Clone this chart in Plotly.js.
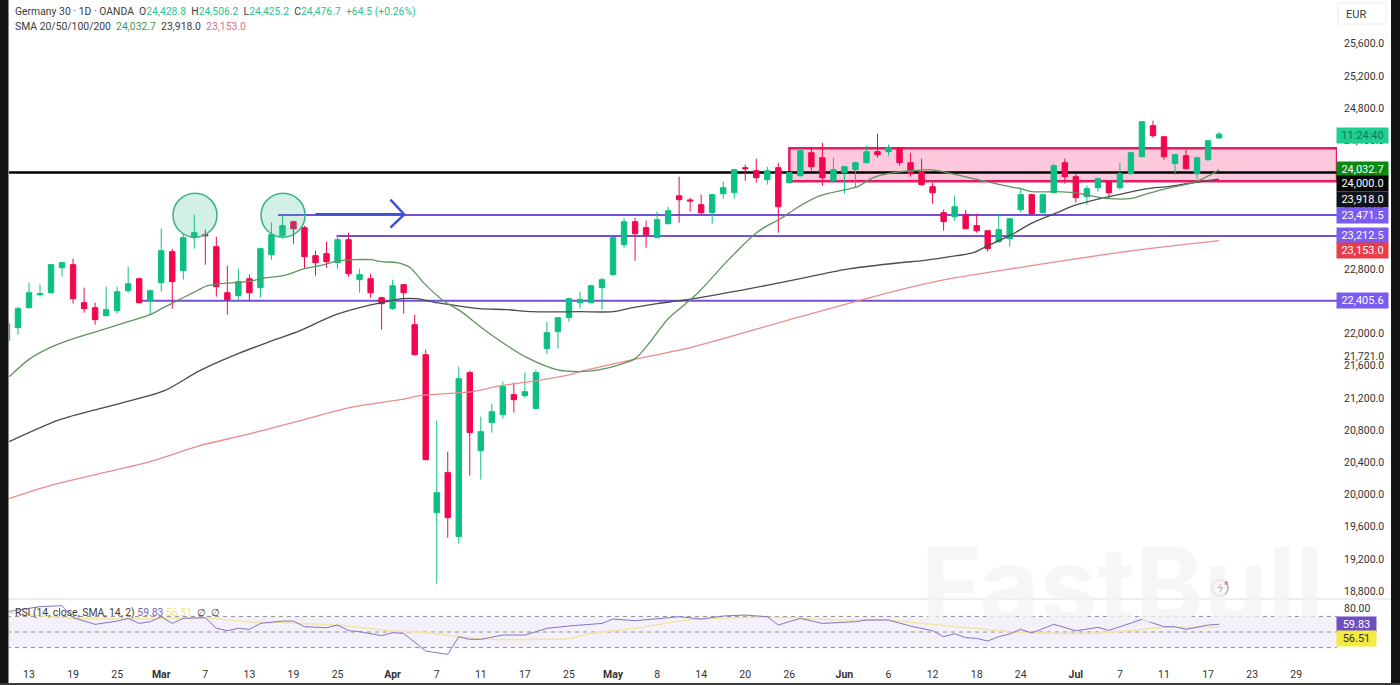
<!DOCTYPE html>
<html>
<head>
<meta charset="utf-8">
<title>Germany 30</title>
<script src="https://cdn.plot.ly/plotly-3.0.1.min.js"></script>
<style>
    html, body { margin: 0; padding: 0; background: #fff; overflow: hidden; }
</style>
</head>
<body>
<div id="chart" style="width:1400px;height:685px"></div>
<script>
// OHLC, first bar sits just before 13 Feb
const opens = [21911,22073,22321,22483,22507,22818,22855,22383,22321,22222,22284,22532,22681,22408,22632,23017,22781,23191,23228,23079,22507,22470,22681,22570,22979,23215,23389,23315,22967,22992,22880,23166,22669,22681,22445,22309,22607,22110,21737,19775,20272,19477,21514,20545,20893,20992,21241,21228,21067,21812,22023,22197,22383,22383,22570,22731,23104,23389,23315,23191,23364,23712,23660,23600,23501,23737,23749,24060,24023,23911,24060,23874,23960,24246,24184,23898,23998,24035,24122,24259,24259,24308,24122,24010,23824,23501,23451,23476,23340,23277,23141,23178,23538,23725,23501,23749,24122,23948,23700,23811,23886,23811,23985,24196,24581,24445,24110,24209,23985,24159,24428.8];
const highs = [22259,22333,22632,22607,22865,22890,22930,22570,22383,22582,22582,22830,22690,22545,23302,23054,23240,23476,23290,23203,22843,22805,22731,23064,23377,23464,23402,23340,23029,23141,23228,23253,22805,22743,22458,22669,22615,22234,21799,20918,20533,21588,21539,20967,21129,21402,21390,21514,21551,22147,22205,22445,22520,22607,22694,23200,23439,23439,23402,23513,23575,23948,23687,23725,23735,23886,24045,24097,24172,24072,24122,24005,24280,24321,24370,24184,24080,24130,24333,24482,24346,24318,24246,24172,23874,23538,23712,23538,23488,23285,23488,23439,23811,23735,23735,24110,24172,23985,23836,23936,23895,24122,24259,24640,24644,24455,24230,24283,24196,24408,24506.2];
const lows = [21849,21986,22309,22458,22495,22706,22371,22259,22110,22210,22247,22507,22375,22234,22520,22309,22669,23054,22855,22458,22234,22420,22408,22445,22917,23178,23116,22805,22719,22818,22805,22706,22507,22445,22048,22296,22247,21725,20425,18893,19464,19390,20234,20185,20769,20942,21017,21203,21060,21750,21812,22147,22309,22375,22296,22720,23066,22905,23066,23180,23355,23377,23513,23464,23364,23675,23675,23898,23874,23849,23253,23865,23950,24023,23836,23890,23737,23811,24115,24184,24209,24085,23948,23836,23613,23277,23402,23295,23253,23017,23128,23079,23501,23464,23490,23740,23861,23625,23600,23762,23687,23787,23975,24190,24432,24159,23973,24040,23923,24150,24425.2];
const closes = [22122,22309,22507,22495,22855,22880,22433,22309,22172,22296,22520,22619,22383,22532,23029,22644,23191,23253,23215,22582,22420,22644,22507,23054,23228,23340,23302,22954,22880,22892,23166,22743,22731,22507,22371,22594,22507,21737,20433,20023,19713,21439,20769,20781,21029,21340,21178,21278,21514,22011,22197,22433,22420,22594,22669,23191,23389,23240,23228,23414,23526,23662,23645,23501,23725,23811,24035,24047,23936,24023,23575,23998,24271,24072,23936,24035,24072,24122,24259,24221,24308,24122,23985,23849,23749,23389,23575,23302,23277,23054,23290,23426,23725,23489,23725,24085,23948,23687,23799,23923,23749,23985,24246,24631,24457,24196,24221,24047,24184,24395,24476.7];

// moving averages, vertices taken where the curve bends (x is bar number, 0 = 13 Feb)
const sma20Bars = [-1.8,0.1,1.9,3.5,6.4,9,11,12.2,13.1,14.9,16.2,17.3,19.8,21.6,23.1,25,26.4,28.2,31,32,33.4,34.6,35.8,37.6,39.1,41.2,43.4,45.2,47.9,50,51.8,53.9,55,56.1,58,59.7,60.9,63.4,65.9,67,68.2,69.7,71.8,74.1,75.2,76.6,78.4,80.2,81.8,83.3,85.7,88.1,90,91,93.3,94.8,96.3,98.1,99.9,101.5,103.6,105.7,106.9,108];
const sma20 = [21464,21688,21824,21911,22035,22147,22234,22321,22383,22507,22594,22619,22644,22694,22719,22805,22843,22905,22917,22892,22880,22818,22632,22408,22284,22060,21849,21700,21551,21526,21551,21626,21688,21849,22184,22383,22532,22905,23240,23340,23426,23563,23712,23787,23824,23936,23998,24023,24035,23998,23923,23849,23799,23762,23762,23749,23712,23675,23675,23737,23811,23874,23948,24032.7];
const sma50Bars = [-1.8,2.8,6.4,9.2,12.3,15.5,19.2,22.1,24.6,27.6,30,32,33.9,35.2,37,38.8,40.9,43.4,45.7,50,53,54.8,57,59.7,65.4,70,74.5,79.1,81.1,84.2,85.7,87,89,91.1,93.3,94.8,97.2,99.3,101.5,103.3,105.1,106.9,108];
const sma50 = [20657,20930,21067,21166,21290,21539,21762,21911,22035,22222,22321,22383,22433,22433,22383,22346,22309,22296,22271,22271,22271,22321,22371,22420,22557,22681,22805,22880,22905,22967,23004,23091,23215,23377,23501,23588,23675,23737,23799,23824,23861,23898,23918];
const sma100Bars = [-1.8,1.9,6.4,11,15.5,20.1,24.6,29.1,33.7,35.5,37.9,40.3,42.8,46.1,49.1,50,54.8,60,70,79.1,83.6,88.1,93.9,100.2,108];
const sma100 = [19949,20110,20259,20408,20607,20756,20918,21079,21178,21228,21253,21278,21352,21414,21489,21526,21675,21824,22209,22545,22681,22781,22905,23029,23153];

// RSI pane
const rsiBars = [-2,1,3,4,6,8,9,10,11,12,13,14,16,17,18,19,20,21,23,24,25,27,28,29,30,32,33,34,36,38,39,40,41,43,45,47,49,52,53,55,58,59,61,63,65,67,68,70,72,75,76,78,80,82,83,84,85,86,87,88,89,90,91,93,95,97,98,101,103,104,105,107,108];
const rsi = [76,82.5,83.7,68.3,59.8,64,67.5,61,63.2,69.6,61,67.5,68.3,54.7,51.7,54.7,53.4,61,64,64,56.8,55.5,58.9,51.7,50.4,45.3,49.1,48.2,25.6,21.3,44,40.6,40.6,46.1,46.1,54.7,57.7,61,66.6,64.5,68.3,69.6,66.6,70.5,71.7,69.6,58.9,67.5,61,63.2,65.3,65.3,57.6,51.6,44,47.8,42.7,41.8,38.4,44,47.4,53.4,48.7,59.8,51.6,55.9,52,66.2,56.8,56.8,53.4,58.9,59.83];
const rsiMaBars = [-2,4,8,14,16,20,23,28,30,33,36,39,42,46,49,51,55,59,61,65,69,73,78,81,85,89,92,96,100,103,106,108];
const rsiMa = [75,67.5,66.6,67.5,68.3,63.2,62,58.9,55.9,51.2,49.5,44,40.6,40.6,41.8,48.2,54.7,64,66.6,68.7,68.3,65.3,65.3,61,55.9,50.4,48.7,48.2,52,55.9,55.9,56.51];

// axes
const dateTickBars = [0,4,8,12,16,20,24,28,33,37,41,45,49,53,57,61,65,69,74,78,82,86,90,95,99,103,107,111,115];
const dateTickLabels = ['13','19','25','<b>Mar</b>','7','13','19','25','<b>Apr</b>','7','11','17','25','<b>May</b>','8','14','20','26','<b>Jun</b>','6','12','18','24','<b>Jul</b>','7','11','17','23','29'];
const priceTicks = [25600,25200,24800,24400,24000,23600,23200,22800,22400,22000,21721,21600,21200,20800,20400,20000,19600,19200,18800];
const priceTickLabels = priceTicks.map(v => v.toLocaleString('en-US', { minimumFractionDigits: 1 }));

// drawn levels and their axis tags
const roofZone = [24302, 23892];
const blackLevel = 24000;
const purpleLevels = [23471.5, 23212.5, 22405.6];
const purpleStarts = [22.6, 27.9, 9.9];
const arrowBars = [26, 34.05, null, 32.8, 34.05, 32.8];
const arrowPrices = [23480, 23480, null, 23662, 23480, 23315];
const circleBars = [[13.07, 17.06], [21.06, 25.05]];
const circlePrices = [23743, 23196];

const GREEN = '#0dbf85';
const RED = '#f2074f';
const PURPLE = '#7350d8';
const lastBar = 118.7;

const barNumbers = opens.map((_, i) => i - 2);

const traces = [
    {
        type: 'candlestick', x: barNumbers, open: opens, high: highs, low: lows, close: closes,
        xaxis: 'x', yaxis: 'y', whiskerwidth: 0, hoverinfo: 'skip',
        increasing: { line: { color: GREEN, width: 1 }, fillcolor: GREEN },
        decreasing: { line: { color: RED, width: 1 }, fillcolor: RED },
    },
    smaTrace(sma100Bars, sma100, '#ea8d8d'),
    smaTrace(sma50Bars, sma50, '#4b4b4b'),
    smaTrace(sma20Bars, sma20, '#5f9460'),
    {
        type: 'scatter', mode: 'lines', x: arrowBars, y: arrowPrices, hoverinfo: 'skip',
        line: { color: '#3f51d9', width: 2.5 },
    },
    {
        type: 'scatter', mode: 'lines', x: rsiMaBars, y: rsiMa, xaxis: 'x', yaxis: 'y2', hoverinfo: 'skip',
        line: { color: '#f1e6a6', width: 1.5, shape: 'spline', smoothing: 0.6 },
    },
    {
        type: 'scatter', mode: 'lines', x: rsiBars, y: rsi, xaxis: 'x', yaxis: 'y2', hoverinfo: 'skip',
        line: { color: '#8474c4', width: 1 },
    },
];

function smaTrace(x, y, color) {
    return {
        type: 'scatter', mode: 'lines', x, y, hoverinfo: 'skip',
        line: { color, width: 1.3, shape: 'spline', smoothing: 0.8 },
    };
}

function level(y, x0, color, width, dash) {
    return {
        type: 'line', xref: 'x', yref: 'y', x0, x1: lastBar, y0: y, y1: y, layer: 'below',
        line: { color, width, dash: dash || 'solid' },
    };
}

function rsiLevel(y) {
    return {
        type: 'line', xref: 'x', yref: 'y2', x0: -2, x1: lastBar, y0: y, y1: y, layer: 'below',
        line: { color: '#8a8a8a', width: 1, dash: '4px,4px' },
    };
}

function paperBox(x0, y0, x1, y1, fill) {
    return {
        type: 'rect', xref: 'paper', yref: 'paper', x0: x0 / 1400, x1: x1 / 1400,
        y0: 1 - y1 / 685, y1: 1 - y0 / 685, fillcolor: fill, line: { width: 0 }, layer: 'above',
    };
}

const shapes = [
    {
        type: 'rect', xref: 'x', yref: 'y', x0: 69, x1: lastBar, y0: roofZone[1], y1: roofZone[0], layer: 'below',
        fillcolor: '#fec9dc', line: { color: '#e61b63', width: 2.5 },
    },
    level(blackLevel, -2, '#000000', 2.5),
    ...purpleLevels.map((v, i) => level(v, purpleStarts[i], PURPLE, 2)),
    ...circleBars.map(c => ({
        type: 'circle', xref: 'x', yref: 'y', x0: c[0], x1: c[1], y0: circlePrices[1], y1: circlePrices[0],
        fillcolor: 'rgba(50,185,140,0.22)', line: { color: '#35b48b', width: 1.5 }, layer: 'above',
    })),
    // RSI band
    {
        type: 'rect', xref: 'x', yref: 'y2', x0: -2, x1: lastBar, y0: 30, y1: 70, layer: 'below',
        fillcolor: 'rgba(126,87,194,0.09)', line: { width: 0 },
    },
    rsiLevel(70), rsiLevel(50), rsiLevel(30),
    // pane divider
    { type: 'line', xref: 'paper', yref: 'paper', x0: 9 / 1400, x1: 1391 / 1400, y0: 1 - 599 / 685, y1: 1 - 599 / 685, line: { color: '#dcdcdc', width: 1 } },
    // screen frame of the screenshot
    paperBox(0, 0, 8.5, 685, '#141414'),
    paperBox(1391, 0, 1400, 685, '#141414'),
    paperBox(0, 683, 1400, 685, '#3a3a3a'),
    // EUR button
    {
        type: 'rect', xref: 'paper', yref: 'paper', x0: 1338 / 1400, x1: 1386 / 1400, y0: 1 - 24 / 685, y1: 1 - 3 / 685,
        fillcolor: '#ffffff', line: { color: '#ececec', width: 1 },
    },
    // watermark badge
    {
        type: 'circle', xref: 'paper', yref: 'paper', x0: 1212 / 1400, x1: 1228 / 1400, y0: 1 - 596 / 685, y1: 1 - 580 / 685,
        fillcolor: 'rgba(255,255,255,0)', line: { color: '#b9a9c4', width: 1.5 },
    },
    {
        type: 'circle', xref: 'paper', yref: 'paper', x0: 1224 / 1400, x1: 1228 / 1400, y0: 1 - 585 / 685, y1: 1 - 581 / 685,
        fillcolor: '#ef8a8a', line: { width: 0 },
    },
];

function tag(text, price, yshift, bg, color) {
    return {
        xref: 'paper', yref: 'y', x: 1336 / 1400, y: price, yshift, xanchor: 'left', yanchor: 'middle',
        text, showarrow: false, width: 50, height: 14, align: 'center', valign: 'middle', bgcolor: bg, borderpad: 0.5,
        font: { family: 'Roboto, sans-serif', size: 11, color: color || '#ffffff' },
    };
}

function note(text, x, y, size) {
    return {
        xref: 'paper', yref: 'paper', x: x / 1400, y: 1 - y / 685, xanchor: 'left', yanchor: 'middle',
        text, showarrow: false, align: 'left',
        font: { family: 'Roboto, sans-serif', size: size || 10.4, color: '#3c3c3c' },
    };
}

const g = s => `<span style="color:#2fbf92">${s}</span>`;

const annotations = [
    // watermark first so it stays under the labels
    {
        xref: 'paper', yref: 'paper', x: 1122 / 1400, y: 1 - 584 / 685, xanchor: 'center', yanchor: 'middle',
        text: '<b>FastBull</b>', showarrow: false,
        font: { family: 'Inter, Roboto, sans-serif', size: 103, color: 'rgba(243,243,243,0.75)' },
    },
    note(`Germany 30 · 1D · OANDA  O${g('24,428.8')}  H${g('24,506.2')}  L${g('24,425.2')}  C${g('24,476.7')}  ${g('+64.5 (+0.26%)')}`, 13, 11),
    note('SMA 20/50/100/200  <span style="color:#3f9a4f">24,032.7</span>  23,918.0  <span style="color:#d9708a">23,153.0</span>', 13, 26),
    note('RSI (14, close, SMA, 14, 2) <span style="color:#7a66b8">59.83</span> <span style="color:#f1e37a">56.51</span>  ∅  ∅', 13, 612),
    note('EUR', 1344, 14, 11),
    {
        xref: 'paper', yref: 'paper', x: 1220 / 1400, y: 1 - 588 / 685, xanchor: 'center', yanchor: 'middle',
        text: '<i>ϟ</i>', showarrow: false, font: { family: 'DejaVu Sans', size: 10, color: '#b9a9c4' },
    },
    tag('11:24:40', 24476.7, -1, '#1fcf92', '#0b7a55'),
    tag('24,032.7', 24032.7, 0, '#0a8a12'),
    tag('24,000.0', 24000, -11, '#050505'),
    tag('23,918.0', 23918, -20, '#11131c'),
    tag('23,471.5', 23471.5, 0, '#7a5cf2'),
    tag('23,212.5', 23212.5, 0, '#7a5cf2'),
    tag('23,153.0', 23153, -10, '#ea3b4b'),
    tag('22,405.6', 22405.6, 0, '#7a5cf2'),
    {
        xref: 'paper', yref: 'y2', x: 1336 / 1400, y: 59.83, xanchor: 'left', yanchor: 'middle', text: '59.83', showarrow: false,
        width: 38, height: 14, bgcolor: '#6d4fc0', borderpad: 0.5, font: { family: 'Roboto, sans-serif', size: 11, color: '#fff' },
    },
    {
        xref: 'paper', yref: 'y2', x: 1336 / 1400, y: 56.51, yshift: -12, xanchor: 'left', yanchor: 'middle', text: '56.51', showarrow: false,
        width: 38, height: 14, bgcolor: '#f5ea3d', borderpad: 0.5, font: { family: 'Roboto, sans-serif', size: 11, color: '#333' },
    },
];

const tickFont = { family: 'Roboto, sans-serif', size: 10.5, color: '#333333' };

const layout = {
    width: 1400,
    height: 685,
    margin: { l: 0, r: 0, t: 0, b: 0 },
    paper_bgcolor: '#ffffff',
    plot_bgcolor: '#ffffff',
    showlegend: false,
    xaxis: {
        domain: [9 / 1400, 1337 / 1400], range: [-1.815, lastBar], anchor: 'y2', showgrid: false, zeroline: false,
        showline: false, ticks: '', tickmode: 'array', tickvals: dateTickBars, ticktext: dateTickLabels, tickangle: 0,
        tickfont: tickFont, ticklabelstandoff: 6, rangeslider: { visible: false }, fixedrange: true,
    },
    yaxis: {
        domain: [1 - 599 / 685, 1], range: [18702, 26143], anchor: 'x', side: 'right', showgrid: false, zeroline: false,
        ticks: '', tickmode: 'array', tickvals: priceTicks, ticktext: priceTickLabels, tickfont: tickFont,
        ticklabelstandoff: 6, fixedrange: true,
    },
    yaxis2: {
        domain: [1 - 660 / 685, 1 - 599 / 685], range: [14.1, 92.3], anchor: 'x', side: 'right', showgrid: false, zeroline: false,
        ticks: '', tickmode: 'array', tickvals: [80], ticktext: ['80.00'], tickfont: tickFont, ticklabelstandoff: 6, fixedrange: true,
    },
    shapes,
    annotations,
};

Plotly.newPlot('chart', traces, layout, { displayModeBar: false, staticPlot: true });
</script>
</body>
</html>
